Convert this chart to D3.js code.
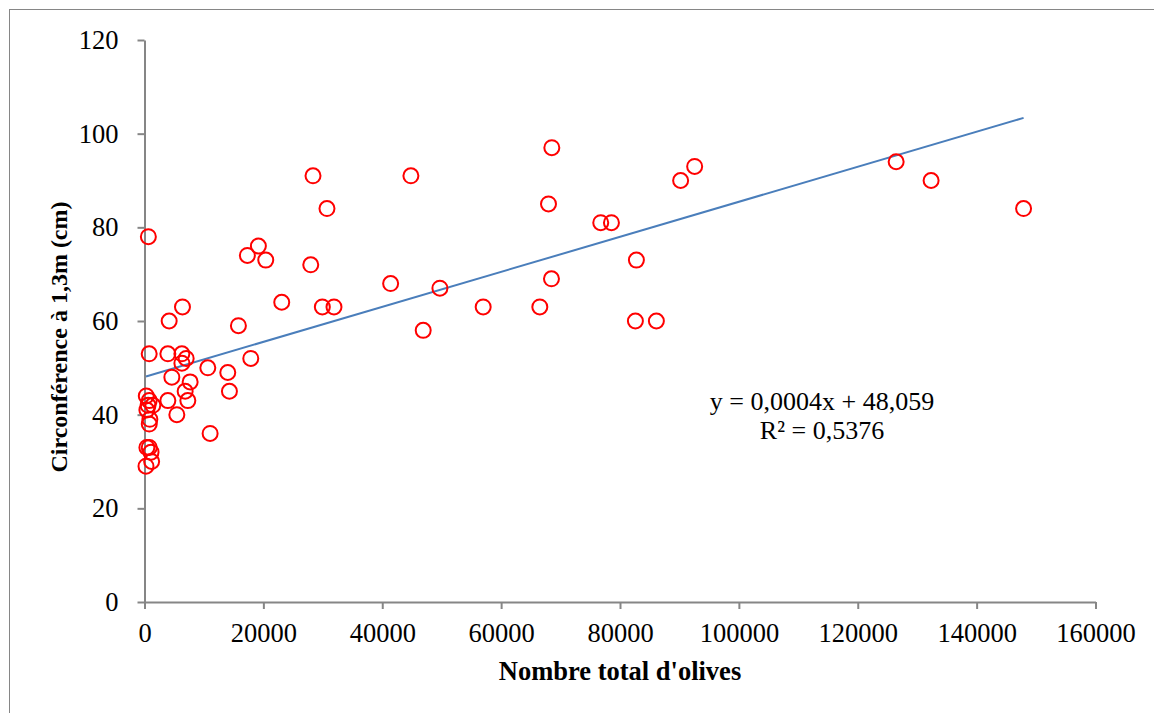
<!DOCTYPE html>
<html>
<head>
<meta charset="utf-8">
<script src="https://cdn.jsdelivr.net/npm/d3@7"></script>
<style>
  body { margin: 0; background: #fff; }
  text { font-family: "Liberation Serif", "Times New Roman", serif; }
</style>
</head>
<body>
<svg></svg>
<script>
let width = 1154, height = 713;

let svg = d3.select("svg")
    .attr("width", width)
    .attr("height", height);

// Nombre total d'olives (x) and circonférence (y)
let olives = [
    650, 19160, 17310, 20400, 27970, 23090, 29920, 31880, 6390, 4150,
    15800, 790, 3930, 6290, 7010, 6290, 17880, 10650, 14010, 4600,
    7680, 14290, 6840, 3930, 7290, 300, 800, 600, 1400, 400,
    900, 800, 5440, 11040, 400, 800, 1100, 1200, 250,
    28350, 30700, 44820, 41410, 46890, 49700, 56980, 66510, 67970, 68530,
    68470, 76760, 78560, 82760, 82590, 86120, 90200, 92560, 126460, 132340,
    147900
];
let circonference = [
    78, 76, 74, 73, 72, 64, 63, 63, 63, 60,
    59, 53, 53, 53, 52, 51, 52, 50, 49, 48,
    47, 45, 45, 43, 43, 44, 43, 42, 42, 41,
    39, 38, 40, 36, 33, 33, 32, 30, 29,
    91, 84, 91, 68, 58, 67, 63, 63, 85, 97,
    69, 81, 81, 73, 60, 60, 90, 93, 94, 90,
    84
];

// linear trend (Excel)
let slope = 0.000374, intercept = 48.059;
let equation = ["y = 0,0004x + 48,059", "R² = 0,5376"];

let xTicks = [0, 20000, 40000, 60000, 80000, 100000, 120000, 140000, 160000];
let yTicks = [0, 20, 40, 60, 80, 100, 120];

let points = olives.map((d, i) => ({ x: d, y: circonference[i] }));

// outer chart border
svg.append("rect")
    .attr("x", 9.5).attr("y", 9.5)
    .attr("width", 1160).attr("height", 720)
    .attr("fill", "none")
    .attr("stroke", "#868686")
    .attr("stroke-width", 1);

let x = d3.scaleLinear().domain([0, 160000]).range([144.5, 1095.5]);
let y = d3.scaleLinear().domain([0, 120]).range([602, 40]);

// axes
let xAxis = svg.append("g")
    .attr("transform", "translate(0," + y(0) + ")")
    .call(d3.axisBottom(x).tickValues(xTicks).tickFormat(d3.format("d"))
        .tickSize(7).tickSizeOuter(0).tickPadding(14));
let yAxis = svg.append("g")
    .attr("transform", "translate(" + x(0) + ",0)")
    .call(d3.axisLeft(y).tickValues(yTicks).tickFormat(d3.format("d"))
        .tickSize(7).tickSizeOuter(0).tickPadding(19));

[xAxis, yAxis].forEach(g => {
    g.select(".domain").attr("stroke", "#868686").attr("stroke-width", 2);
    g.selectAll(".tick line").attr("stroke", "#868686").attr("stroke-width", 2);
    g.selectAll(".tick text")
        .attr("fill", "#000")
        .style("font-size", "26.5px")
        .style("font-family", "'Liberation Serif', 'Times New Roman', serif");
});

// trend line
let xr = d3.extent(olives);
svg.append("line")
    .attr("x1", x(xr[0])).attr("y1", y(intercept + slope * xr[0]))
    .attr("x2", x(xr[1])).attr("y2", y(intercept + slope * xr[1]))
    .attr("stroke", "#4A7EBB")
    .attr("stroke-width", 2);

// points
svg.append("g")
    .selectAll("circle")
    .data(points)
    .enter()
    .append("circle")
    .attr("cx", d => x(d.x))
    .attr("cy", d => y(d.y))
    .attr("r", 7.5)
    .attr("fill", "none")
    .attr("stroke", "#FF0000")
    .attr("stroke-width", 2);

// equation
svg.append("g")
    .selectAll("text")
    .data(equation)
    .enter()
    .append("text")
    .attr("x", 822)
    .attr("y", (d, i) => 410 + i * 29)
    .attr("text-anchor", "middle")
    .style("font-size", "26px")
    .text(d => d);

// axis titles
svg.append("text")
    .attr("x", 620)
    .attr("y", 680)
    .attr("text-anchor", "middle")
    .style("font-size", "26.5px")
    .style("font-weight", "bold")
    .text("Nombre total d'olives");

svg.append("text")
    .attr("transform", "translate(67,337) rotate(-90)")
    .attr("text-anchor", "middle")
    .style("font-size", "24px")
    .style("font-weight", "bold")
    .text("Circonférence à 1,3m (cm)");
</script>
</body>
</html>
